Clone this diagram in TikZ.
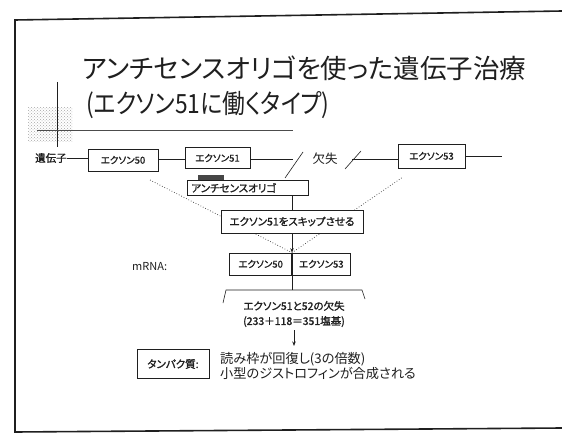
\documentclass[tikz,border=0pt]{standalone}
\usepackage{fontspec}
\setmainfont{Noto Sans CJK JP}[RawFeature=+palt]
\newfontfamily\jpb{Noto Sans CJK JP}[RawFeature=+palt,FakeBold=1.5]
\usetikzlibrary{arrows.meta,backgrounds,patterns}
\definecolor{ink}{gray}{0.12}
\tikzset{
  exbox/.style={draw=ink, line width=0.7pt, fill=white, inner sep=1pt, text=ink,
    font=\jpb\fontsize{9.5}{11}\selectfont},
  conn/.style={draw=ink, line width=0.6pt},
  vdot/.style={draw=gray!40!black, line width=0.7pt, dotted},
  arr/.style={draw=ink, line width=0.7pt, -{Stealth[length=4.5pt,width=3.5pt]}},
  frame/.style={draw=ink, line width=1.6pt},
}
\begin{document}
\begin{tikzpicture}[x=1pt,y=-1pt]
\useasboundingbox (0,0) rectangle (562,433);
\begin{pgfonlayer}{background}
\fill[white] (0,0) rectangle (562,433);
\end{pgfonlayer}
% frame
\draw[frame] (562,11) -- (15,20) -- (15,433);
\draw[frame] (15,432) -- (562,428);
% title decoration
\fill[pattern=crosshatch dots, pattern color=gray!70] (28,108) rectangle (72,142);
\draw[ink, line width=0.9pt] (57,82) -- (57,147);
\draw[gray!60!black, line width=0.7pt] (37,130) -- (293,130);
% title
\node[anchor=west, inner sep=0, text=ink, font=\fontsize{26.5}{30}\selectfont] (t1) at (82,68) {アンチセンスオリゴを使った遺伝子治療};
\node[anchor=west, inner sep=0, text=ink, font=\fontsize{26.5}{30}\selectfont] (t2) at (86,105) {\scalebox{0.86}[1]{(エクソン51に働くタイプ)}};
% gene row
\node[anchor=west, inner sep=0, text=ink, font=\jpb\fontsize{10.5}{12}\selectfont] (gene) at (35,158) {遺伝子};
\node[exbox, minimum width=70, minimum height=22] (ex50) at (123,160) {エクソン50};
\node[exbox, minimum width=65, minimum height=21] (ex51) at (217.5,158) {エクソン51};
\node[exbox, minimum width=67, minimum height=24] (ex53) at (431.5,156) {エクソン53};
\node[inner sep=0, text=ink, font=\fontsize{12.5}{14}\selectfont] (del) at (325,159) {欠失};
\coordinate (c1) at (293,159);
\coordinate (c2) at (352,159);
\coordinate (c3) at (502,156);
\coordinate (s1a) at (285,178); \coordinate (s1b) at (303,152);
\coordinate (s2a) at (345,169); \coordinate (s2b) at (361,151);
\draw[conn] (gene.east) -- (gene.east -| ex50.west);
\draw[conn] (ex50.east |- c1) -- (ex51.west |- c1);
\draw[conn] (ex51.east |- c1) -- (c1);
\draw[conn] (s1a) -- (s1b);
\draw[conn] (s2a) -- (s2b);
\draw[conn] (c2) -- (c2 -| ex53.west);
\draw[conn] (ex53.east) -- (c3);
% antisense
\fill[gray!55!black] (198,174.5) rectangle (224,179.5);
\node[exbox, minimum width=121, minimum height=15, anchor=north west, text width=113, align=left, inner xsep=3pt, font=\jpb\fontsize{10.5}{12}\selectfont] (anti) at (187,180) {アンチセンスオリゴ};
\node[exbox, minimum width=142, minimum height=23, font=\jpb\fontsize{10.5}{12}\selectfont] (skip) at (292,221.5) {エクソン51をスキップさせる};
\draw[conn] (anti.south -| skip.north) -- (skip.north);
% mRNA
\node[anchor=west, inner sep=0, text=ink, font=\fontsize{11}{13}\selectfont] (mlab) at (132,267) {mRNA:};
\node[exbox, minimum width=62, minimum height=22, anchor=east] (m50) at (292,264) {エクソン50};
\node[exbox, minimum width=58, minimum height=22, anchor=west] (m53) at (292,264) {エクソン53};
\coordinate (vL) at (150,180);
\coordinate (vR) at (403,177);
\begin{pgfonlayer}{background}
\draw[vdot] (vL) -- (m50.north east) -- (vR);
\end{pgfonlayer}
\draw[arr] (skip.south) -- (m50.north east);
% bracket
\coordinate (b0) at (292,290);
\draw[conn] (m50.south east) -- (b0);
\draw[conn] (223,303) -- (226,290) -- (362,290) -- (365,299);
\node[inner sep=0, text=ink, align=center, font=\jpb\fontsize{10.5}{15}\selectfont] (loss) at (294,314) {エクソン51と52の欠失\\(233＋118＝351塩基)};
\coordinate (a1) at (294,346);
\draw[arr] (loss.south) ++(0,3) coordinate (a0) (a0) -- (a1);
% protein
\node[exbox, minimum width=72, minimum height=29, font=\jpb\fontsize{10.5}{12}\selectfont] (prot) at (173,364) {タンパク質:};
\node[anchor=west, inner sep=0, text=ink, align=left, font=\fontsize{13.2}{15}\selectfont] (res) at (220,366) {読み枠が回復し(3の倍数)\\小型のジストロフィンが合成される};
\end{tikzpicture}
\end{document}
